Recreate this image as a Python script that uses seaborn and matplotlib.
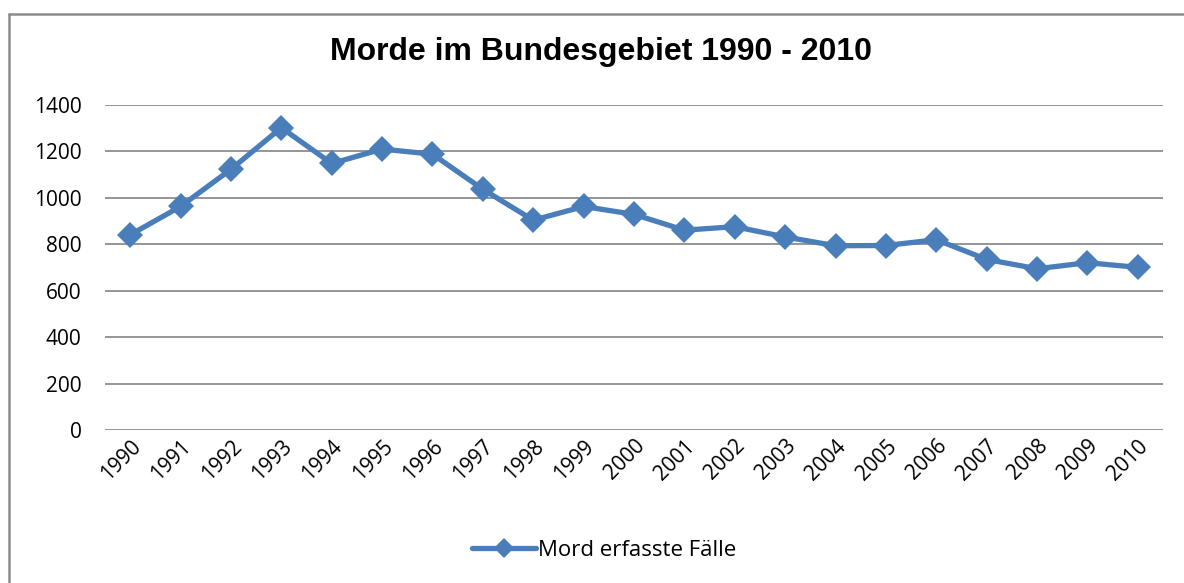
import matplotlib
matplotlib.use("Agg")
import matplotlib.pyplot as plt
import pandas as pd
import seaborn as sns
from matplotlib.lines import Line2D

years = [str(y) for y in range(1990, 2011)]
faelle = [840, 962, 1122, 1301, 1147, 1209, 1187, 1036, 903, 962, 928,
          860, 875, 831, 793, 794, 819, 734, 694, 720, 700]
series_name = "Mord erfasste Fälle"
title = "Morde im Bundesgebiet 1990 - 2010"

BLUE = "#4A7EBB"
W, H = 1184, 583

sns.set_theme(style="white")
plt.rcParams["font.family"] = ["Open Sans", "DejaVu Sans"]
plt.rcParams["text.color"] = "black"

df = pd.DataFrame({"Jahr": years, "Fälle": faelle, "Serie": series_name})

fig = plt.figure(figsize=(W / 100, H / 100), dpi=100)
ax = fig.add_axes([105 / W, 1 - 430 / H, (1163 - 105) / W, (430 - 104.7) / H])

sns.lineplot(data=df, x="Jahr", y="Fälle", hue="Serie", palette=[BLUE],
             marker="D", markersize=13, markeredgewidth=0, linewidth=3.8,
             sort=False, ax=ax)

ax.set_xlim(-0.5, len(years) - 0.5)
ax.set_ylim(0, 1400)
ax.set_yticks(range(0, 1401, 200))
ax.yaxis.grid(True, color="#8c8c8c", linewidth=1.3)
ax.xaxis.grid(False)
for side in ["left", "right", "top", "bottom"]:
    ax.spines[side].set_visible(False)
ax.tick_params(axis="both", length=0, labelsize=15, colors="black")
ax.tick_params(axis="y", pad=17)
ax.tick_params(axis="x", pad=4)
plt.setp(ax.get_xticklabels(), rotation=45, ha="right", rotation_mode="anchor")
ax.set_xlabel("")
ax.set_ylabel("")
ax.set_axisbelow(True)

fig.text(601 / W, 1 - 52 / H, title, ha="center", va="center", color="black",
         fontsize=23, fontweight="bold", family=["Liberation Sans", "DejaVu Sans"])

handles, labels = ax.get_legend_handles_labels()
ax.legend_.remove()
fig.legend(handles, labels, loc="center", bbox_to_anchor=(604 / W, 1 - 550 / H),
           frameon=False, fontsize=16, handlelength=2.9, handletextpad=0.1,
           markerscale=0.75)

# outer chart border (only top and left edge visible)
fig.add_artist(Line2D([8.5 / W, 8.5 / W], [0, 1 - 14 / H], transform=fig.transFigure,
                      color="#8c8c8c", linewidth=1.8))
fig.add_artist(Line2D([8.5 / W, 1], [1 - 14 / H, 1 - 14 / H], transform=fig.transFigure,
                      color="#8c8c8c", linewidth=1.8))

fig.savefig("out.png", dpi=100)
